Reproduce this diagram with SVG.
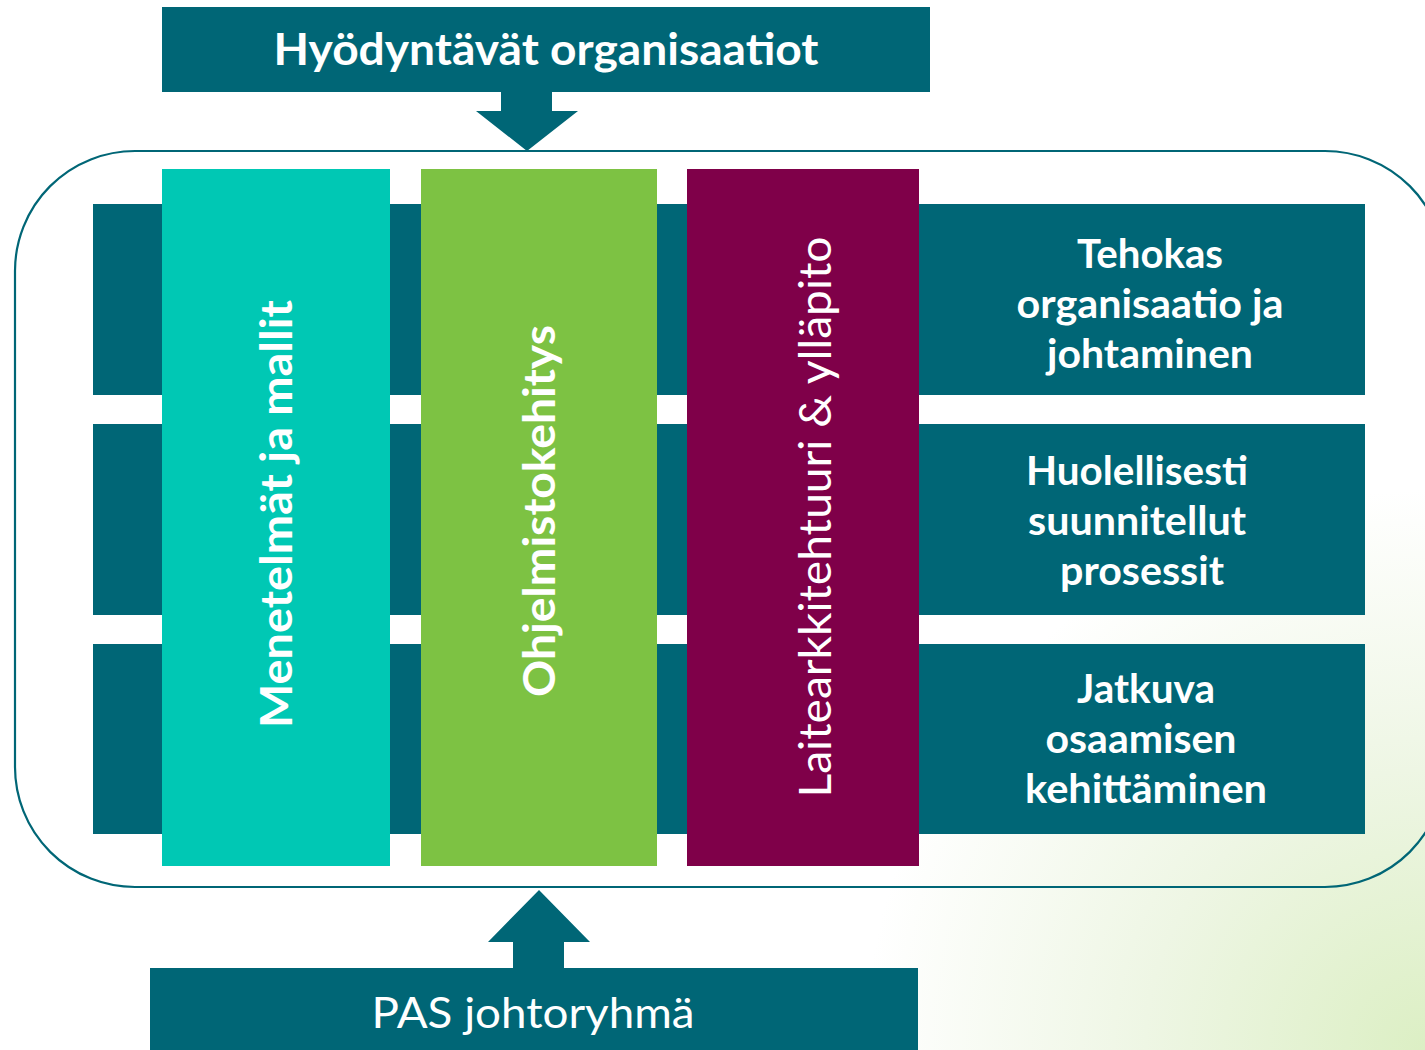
<svg xmlns="http://www.w3.org/2000/svg" width="1425" height="1050" viewBox="0 0 1425 1050">
<defs>
<radialGradient id="bg" cx="1425" cy="1050" r="560" gradientUnits="userSpaceOnUse">
<stop offset="0" stop-color="#dcefc4"/>
<stop offset="0.5" stop-color="#eef6e4"/>
<stop offset="1" stop-color="#ffffff"/>
</radialGradient>
<style>
.teal{fill:#006676}
.wt{fill:#ffffff;font-family:Lato,"Open Sans",sans-serif}
.b{font-weight:700}
.side{font-size:40px;font-weight:700;text-anchor:middle}
</style>
</defs>
<rect width="1425" height="1050" fill="url(#bg)"/>
<g id="frame">
<rect x="15" y="151" width="1430" height="736" rx="120" ry="120" fill="none" stroke="#006676" stroke-width="2.2"/>
</g>
<g id="rows">
<rect class="teal" x="93" y="204" width="1272" height="191"/>
<rect class="teal" x="93" y="424" width="1272" height="191"/>
<rect class="teal" x="93" y="644" width="1272" height="190"/>
</g>
<g id="row1"><text class="wt side"><tspan x="1150" y="268" textLength="146" lengthAdjust="spacingAndGlyphs">Tehokas</tspan><tspan x="1150" y="318" textLength="267" lengthAdjust="spacingAndGlyphs">organisaatio ja</tspan><tspan x="1150" y="368" textLength="206" lengthAdjust="spacingAndGlyphs">johtaminen</tspan></text></g>
<g id="row2"><text class="wt side"><tspan x="1137" y="485" textLength="222" lengthAdjust="spacingAndGlyphs">Huolellisesti</tspan><tspan x="1137" y="535" textLength="218" lengthAdjust="spacingAndGlyphs">suunnitellut</tspan><tspan x="1142" y="585" textLength="164" lengthAdjust="spacingAndGlyphs">prosessit</tspan></text></g>
<g id="row3"><text class="wt side"><tspan x="1146" y="703" textLength="138" lengthAdjust="spacingAndGlyphs">Jatkuva</tspan><tspan x="1141" y="753" textLength="191" lengthAdjust="spacingAndGlyphs">osaamisen</tspan><tspan x="1146" y="803" textLength="242" lengthAdjust="spacingAndGlyphs">kehittäminen</tspan></text></g>
<g id="col1">
<rect x="162" y="169" width="228" height="697" fill="#00c8b4"/>
<text class="wt b" transform="translate(292,514) rotate(-90)" text-anchor="middle" font-size="44" textLength="428" lengthAdjust="spacingAndGlyphs">Menetelmät ja mallit</text>
</g>
<g id="col2">
<rect x="421" y="169" width="236" height="697" fill="#7dc243"/>
<text class="wt b" transform="translate(555,511) rotate(-90)" text-anchor="middle" font-size="44" textLength="372" lengthAdjust="spacingAndGlyphs">Ohjelmistokehitys</text>
</g>
<g id="col3">
<rect x="687" y="169" width="232" height="697" fill="#7f0049"/>
<text class="wt" transform="translate(831,517) rotate(-90)" text-anchor="middle" font-size="44" textLength="561" lengthAdjust="spacingAndGlyphs">Laitearkkitehtuuri &amp; ylläpito</text>
</g>
<g id="top">
<rect class="teal" x="162" y="7" width="768" height="85"/>
<text class="wt b" x="546" y="65" text-anchor="middle" font-size="43" textLength="545" lengthAdjust="spacingAndGlyphs">Hyödyntävät organisaatiot</text>
</g>
<g id="bottom">
<rect class="teal" x="150" y="968" width="768" height="82"/>
<text class="wt" x="533" y="1028" text-anchor="middle" font-size="43" textLength="323" lengthAdjust="spacingAndGlyphs">PAS johtoryhmä</text>
</g>
<g id="connectors">
<polygon class="teal" points="501,92 552,92 552,111 578,111 527,151 476,111 501,111"/>
<polygon class="teal" points="513,968 564,968 564,942 590,942 539,890 488,942 513,942"/>
</g>
</svg>
